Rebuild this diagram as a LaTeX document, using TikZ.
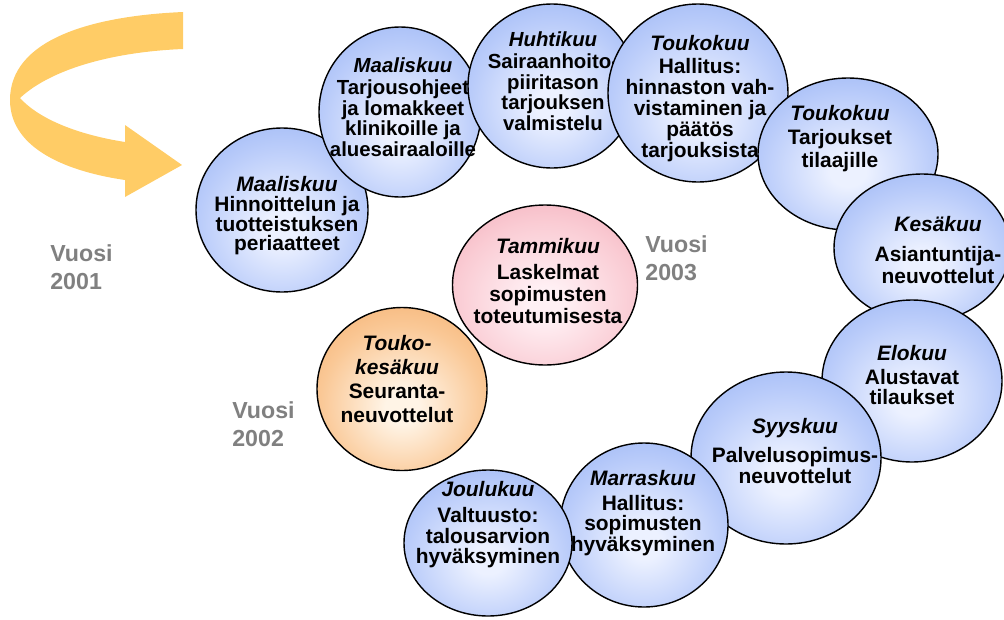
\documentclass[tikz,border=0pt]{standalone}
\usepackage{fontspec}
\setmainfont{Liberation Sans}
\usetikzlibrary{shapes.geometric}
\definecolor{bA}{RGB}{236,241,255}
\definecolor{bB}{RGB}{186,204,250}
\definecolor{bC}{RGB}{142,172,242}
\definecolor{pA}{RGB}{255,240,244}
\definecolor{pB}{RGB}{250,204,212}
\definecolor{pC}{RGB}{240,164,178}
\definecolor{oA}{RGB}{255,244,230}
\definecolor{oB}{RGB}{250,200,150}
\definecolor{oC}{RGB}{242,166,96}
\definecolor{arrowor}{RGB}{255,204,102}
\definecolor{yeargray}{RGB}{128,128,128}
\pgfdeclareradialshading{blueball}{\pgfpoint{0bp}{-6bp}}{color(0bp)=(bA); color(5bp)=(bA); color(24bp)=(bB); color(42bp)=(bC); color(100bp)=(bC)}
\pgfdeclareradialshading{pinkball}{\pgfpoint{0bp}{-6bp}}{color(0bp)=(pA); color(5bp)=(pA); color(24bp)=(pB); color(42bp)=(pC); color(100bp)=(pC)}
\pgfdeclareradialshading{orangeball}{\pgfpoint{0bp}{-6bp}}{color(0bp)=(oA); color(5bp)=(oA); color(24bp)=(oB); color(42bp)=(oC); color(100bp)=(oC)}
\tikzset{
  bub/.style={ellipse, draw=black, line width=0.8pt, inner sep=0pt},
  sz/.style 2 args={minimum width=#1*0.02cm, minimum height=#2*0.02cm},
  blueb/.style={bub, shading=blueball},
  pinkb/.style={bub, shading=pinkball},
  orangeb/.style={bub, shading=orangeball},
  txt/.style={font=\bfseries\fontsize{11.9}{11.7}\selectfont, align=center, text=black, inner sep=0pt},
  yr/.style={font=\bfseries\fontsize{13.2}{16}\selectfont, text=yeargray, align=left, anchor=west, inner sep=0pt},
  ribbon/.style={fill=arrowor, draw=none}
}
\newcommand{\mon}[1]{\textit{#1}}
\begin{document}
\begin{tikzpicture}[x=0.02cm, y=-0.02cm]
\useasboundingbox (0,0) rectangle (1004,619);
% yellow U-turn arrow
\fill[ribbon] (183,12) .. controls (90,16) and (10,40) .. (10,100)
  .. controls (10,150) and (70,172) .. (125,180) -- (125,197) -- (182,165)
  -- (125,125) -- (125,142) .. controls (80,135) and (40,120) .. (20,98)
  .. controls (50,70) and (110,52) .. (183,49) -- cycle;
% year labels
\node[yr] (y2001) at (50,267) {Vuosi\\2001};
\node[yr] (y2003) at (645,258) {Vuosi\\2003};
\node[yr] (y2002) at (232,424) {Vuosi\\2002};
% inner circles
\node[pinkb, sz={185}{160}] (tm) at (545,285) {};
\node[txt, font=\bfseries\fontsize{11.9}{12.6}\selectfont] (tmt) at (548,281) {\mon{Tammikuu}\\[2pt]Laskelmat\\sopimusten\\toteutumisesta};
\node[orangeb, sz={170}{163}] (tk) at (402,389) {};
\node[txt, font=\bfseries\fontsize{11.9}{13.5}\selectfont] (tkt) at (397,379) {\mon{Touko-}\\\mon{kesäkuu}\\Seuranta-\\neuvottelut};
% spiral circles, later months on top
\node[blueb, sz={172}{164}] (m1) at (282,210) {};
\node[txt, font=\bfseries\fontsize{11.9}{11.2}\selectfont] (m1t) at (287,216) {\mon{Maaliskuu}\\Hinnoittelun ja\\tuotteistuksen\\periaatteet};
\node[blueb, sz={162}{170}] (m2) at (400,112) {};
\node[txt, font=\bfseries\fontsize{11.6}{11.7}\selectfont] (m2t) at (403,107) {\mon{Maaliskuu}\\[1pt]Tarjousohjeet\\ja lomakkeet\\klinikoille ja\\aluesairaaloille};
\node[blueb, sz={168}{164}] (h) at (552,86) {};
\node[txt, font=\bfseries\fontsize{11.6}{11.7}\selectfont] (ht) at (553,81) {\mon{Huhtikuu}\\[1pt]Sairaanhoito-\\piiritason\\tarjouksen\\valmistelu};
\node[blueb, sz={180}{178}] (t1) at (698,93) {};
\node[txt, font=\bfseries\fontsize{11.9}{12}\selectfont] (t1t) at (700,99) {\mon{Toukokuu}\\[1pt]Hallitus:\\hinnaston vah-\\vistaminen ja\\päätös\\tarjouksista};
\node[blueb, sz={180}{152}] (t2) at (848,154) {};
\node[txt, font=\bfseries\fontsize{11.9}{13.4}\selectfont] (t2t) at (840,139) {\mon{Toukokuu}\\Tarjoukset\\tilaajille};
\node[blueb, sz={176}{148}] (k) at (922,248) {};
\node[txt, font=\bfseries\fontsize{11.9}{11}\selectfont] (kt) at (938,250) {\mon{Kesäkuu}\\[6pt]Asiantuntija-\\neuvottelut};
\node[blueb, sz={180}{162}] (e) at (912,381) {};
\node[txt] (et) at (912,375) {\mon{Elokuu}\\[2pt]Alustavat\\tilaukset};
\node[blueb, sz={190}{172}] (s) at (786,458) {};
\node[txt] (st) at (795,451) {\mon{Syyskuu}\\[5pt]Palvelusopimus-\\neuvottelut};
\node[blueb, sz={168}{164}] (mr) at (644,525) {};
\node[txt] (mrt) at (643,513) {\mon{Marraskuu}\\[2.5pt]Hallitus:\\sopimusten\\hyväksyminen};
\node[blueb, sz={168}{146}] (j) at (488,543) {};
\node[txt] (jt) at (488,525) {\mon{Joulukuu}\\[3pt]Valtuusto:\\talousarvion\\hyväksyminen};
\end{tikzpicture}
\end{document}
